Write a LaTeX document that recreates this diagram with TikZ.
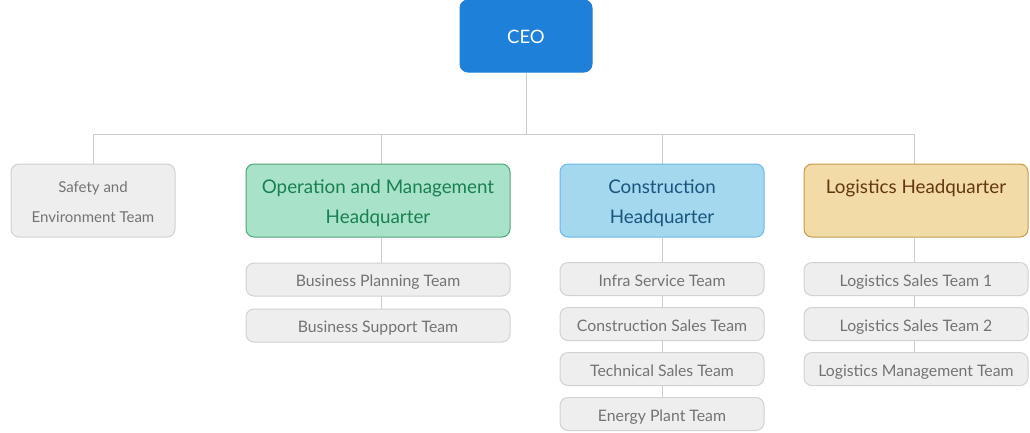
\documentclass[tikz,border=0pt]{standalone}
\usepackage{fontspec}
\setmainfont{Lato}
\usetikzlibrary{backgrounds}

\definecolor{ceo fill}{RGB}{30,128,216}
\definecolor{line color}{RGB}{204,204,204}
\definecolor{team fill}{RGB}{238,238,238}
\definecolor{team draw}{RGB}{210,210,210}
\definecolor{team text}{RGB}{115,115,115}
\definecolor{op fill}{RGB}{168,226,201}
\definecolor{op draw}{RGB}{80,165,120}
\definecolor{op text}{RGB}{26,128,80}
\definecolor{con fill}{RGB}{164,216,238}
\definecolor{con draw}{RGB}{110,185,230}
\definecolor{con text}{RGB}{25,85,125}
\definecolor{log fill}{RGB}{242,219,166}
\definecolor{log draw}{RGB}{195,155,75}
\definecolor{log text}{RGB}{100,55,15}

\begin{document}
\begin{tikzpicture}[x=1pt, y=-1pt, line width=1pt,
	box/.style={rounded corners=8pt, draw, align=center, inner sep=0pt, text depth=0pt},
	team/.style={box, fill=team fill, draw=team draw, text=team text, minimum height=33pt,
		text height=14pt, font=\fontsize{15.8}{30}\selectfont},
	hq/.style={box, minimum height=73pt, text height=46pt, font=\fontsize{18.8}{30}\selectfont},
	link/.style={draw=line color}]
	\useasboundingbox (0,0) rectangle (1030,432);

	\node (ceo) at (526,36) [box, fill=ceo fill, draw=ceo fill, text=white, minimum width=132pt, minimum height=72pt,
		text height=14pt, font=\fontsize{18.5}{20}\selectfont] {CEO};

	\node (safety) at (93,200.5) [team, minimum width=164pt, minimum height=73pt, text height=43pt,
		font=\fontsize{15}{30}\selectfont] {Safety and\\Environment Team};
	\node (op) at (378,200.5) [hq, minimum width=264pt, fill=op fill, draw=op draw, text=op text] {Operation and Management\\Headquarter};
	\node (con) at (662,200.5) [hq, minimum width=204pt, fill=con fill, draw=con draw, text=con text] {Construction\\Headquarter};
	\node (log) at (916,200.5) [hq, minimum width=224pt, fill=log fill, draw=log draw, text=log text] {Logistics Headquarter\\\mbox{}};

	% teams under each headquarter
	\node (op1) at (378,279.5) [team, minimum width=264pt] {Business Planning Team};
	\node (op2) at (378,325.5) [team, minimum width=264pt] {Business Support Team};

	\node (con1) at (662,279) [team, minimum width=204pt] {Infra Service Team};
	\node (con2) at (662,324) [team, minimum width=204pt] {Construction Sales Team};
	\node (con3) at (662,369) [team, minimum width=204pt] {Technical Sales Team};
	\node (con4) at (662,414) [team, minimum width=204pt] {Energy Plant Team};

	\node (log1) at (916,279) [team, minimum width=224pt] {Logistics Sales Team 1};
	\node (log2) at (916,324) [team, minimum width=224pt] {Logistics Sales Team 2};
	\node (log3) at (916,369) [team, minimum width=224pt] {Logistics Management Team};

	\begin{scope}[on background layer]
		\draw [link] (ceo.south) -- ++(0,62) coordinate (bus);
		\draw [link] (safety.north) |- (bus) -| ([xshift=-2pt]log.north);
		\draw [link] ([xshift=3pt]op.north) -- ([xshift=3pt]op.north |- bus);
		\draw [link] (con.north) -- (con.north |- bus);
		\draw [link] ([xshift=3pt]op.south) -- ([xshift=3pt]op2.north);
		\draw [link] (con.south) -- (con4.north);
		\draw [link] ([xshift=-2pt]log.south) -- ([xshift=-2pt]log3.north);
	\end{scope}
\end{tikzpicture}
\end{document}
